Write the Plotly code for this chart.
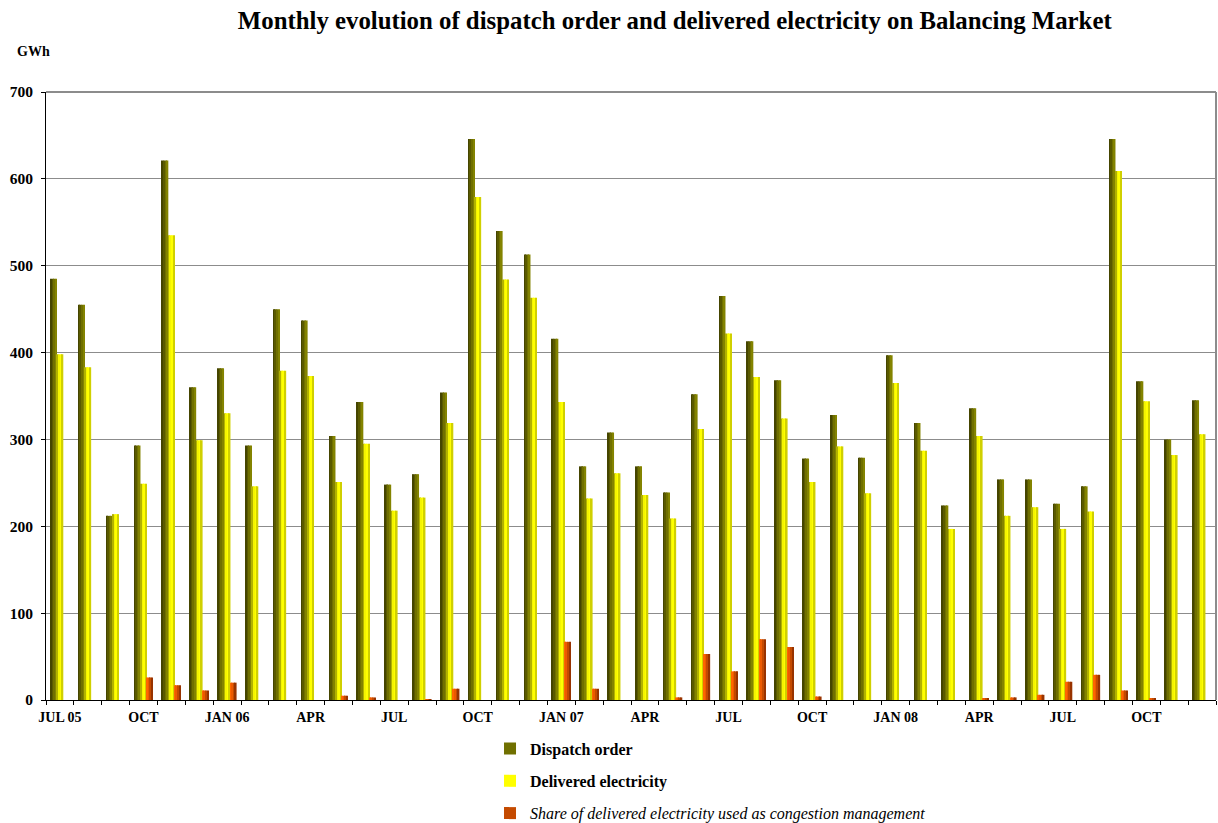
import plotly.graph_objects as go

# Months Jul 2005 - Dec 2008
months = [
    "Jul 05", "Aug 05", "Sep 05", "Oct 05", "Nov 05", "Dec 05",
    "Jan 06", "Feb 06", "Mar 06", "Apr 06", "May 06", "Jun 06",
    "Jul 06", "Aug 06", "Sep 06", "Oct 06", "Nov 06", "Dec 06",
    "Jan 07", "Feb 07", "Mar 07", "Apr 07", "May 07", "Jun 07",
    "Jul 07", "Aug 07", "Sep 07", "Oct 07", "Nov 07", "Dec 07",
    "Jan 08", "Feb 08", "Mar 08", "Apr 08", "May 08", "Jun 08",
    "Jul 08", "Aug 08", "Sep 08", "Oct 08", "Nov 08", "Dec 08",
]

# Axis labels shown every third month
month_labels = [
    "JUL 05", "", "", "OCT", "", "",
    "JAN 06", "", "", "APR", "", "",
    "JUL", "", "", "OCT", "", "",
    "JAN 07", "", "", "APR", "", "",
    "JUL", "", "", "OCT", "", "",
    "JAN 08", "", "", "APR", "", "",
    "JUL", "", "", "OCT", "", "",
]

# GWh
dispatch_order = [
    485, 455, 212, 293, 621, 360,
    382, 293, 450, 437, 304, 343,
    248, 260, 354, 646, 540, 513,
    416, 269, 308, 269, 239, 352,
    465, 413, 368, 278, 328, 279,
    397, 319, 224, 336, 254, 254,
    226, 246, 646, 367, 300, 345,
]

delivered = [
    398, 383, 214, 249, 535, 299,
    330, 246, 379, 373, 251, 295,
    218, 233, 319, 579, 484, 463,
    343, 232, 261, 236, 209, 312,
    422, 372, 324, 251, 292, 238,
    365, 287, 197, 304, 212, 222,
    197, 217, 609, 344, 282, 306,
]

congestion = [
    0, 0, 0, 26, 17, 11,
    20, 0, 0, 0, 5, 3,
    0, 1, 13, 0, 0, 0,
    67, 13, 0, 0, 3, 53,
    33, 70, 61, 4, 0, 0,
    0, 0, 0, 1.5, 3, 6,
    21, 29, 11, 1.5, 0, 0,
]

y_ticks = [0, 100, 200, 300, 400, 500, 600, 700]

SERIF = "Liberation Serif"

# Each series: name, values, left offset in category units, bar width, shading stripes (left to right)
series = [
    ("<b>Dispatch order</b>", dispatch_order, -0.34, 0.23,
     ["#454500", "#5a5a00", "#707000", "#838300"]),
    ("<b>Delivered electricity</b>", delivered, -0.11, 0.23,
     ["#b2b200", "#f4f400", "#ffff00", "#d0d000"]),
    ("<i>Share of delivered electricity used as congestion management</i>", congestion, 0.105, 0.235,
     ["#ff6600", "#ec5a00", "#c44a00", "#983300"]),
]

fig = go.Figure()
n_stripes = 4
for gi, (name, vals, left, width, shades) in enumerate(series):
    sw = width / n_stripes
    for k, col in enumerate(shades):
        fig.add_trace(go.Bar(
            x=months,
            y=vals,
            name=name,
            legendgroup=f"g{gi}",
            showlegend=(k == 2),
            offset=left + k * sw,
            width=sw * 1.02,
            marker=dict(color=col, line=dict(width=0)),
            hoverinfo="x+y",
        ))

fig.update_layout(
    width=1218,
    height=823,
    barmode="overlay",
    plot_bgcolor="white",
    paper_bgcolor="white",
    margin=dict(l=46, r=2, t=92, b=123, autoexpand=False),
    font=dict(family=SERIF, color="black"),
    title=dict(
        text="<b>Monthly evolution of dispatch order and delivered electricity on Balancing Market</b>",
        font=dict(family=SERIF, size=24.8, color="black"),
        x=0.554, xanchor="center", xref="container",
        y=0.975, yanchor="middle", yref="container",
    ),
    xaxis=dict(
        type="category",
        tickmode="array",
        tickvals=months,
        ticktext=month_labels,
        tickson="boundaries",
        ticks="outside",
        ticklen=4,
        tickcolor="black",
        tickangle=0,
        ticklabelstandoff=4,
        automargin=False,
        showline=True,
        linecolor="black",
        linewidth=1,
        showgrid=False,
        tickfont=dict(family=SERIF, size=14, color="black", weight="bold"),
        range=[-0.5, len(months) - 0.5],
    ),
    yaxis=dict(
        range=[0, 700],
        tickvals=y_ticks,
        ticks="outside",
        ticklen=4,
        tickcolor="black",
        ticklabelstandoff=5,
        automargin=False,
        showline=True,
        linecolor="black",
        linewidth=1,
        showgrid=True,
        gridcolor="#8c8c8c",
        gridwidth=1,
        zeroline=False,
        tickfont=dict(family=SERIF, size=15.5, color="black", weight="bold"),
    ),
    legend=dict(
        x=0.3795, xanchor="left",
        y=-0.052, yanchor="top",
        font=dict(family=SERIF, size=16, color="black"),
        tracegroupgap=8.5,
        bgcolor="rgba(0,0,0,0)",
    ),
    annotations=[
        dict(
            text="<b>GWh</b>",
            xref="paper", yref="paper",
            x=-0.0265, y=1.0674,
            xanchor="left", yanchor="middle",
            showarrow=False,
            font=dict(family=SERIF, size=14, color="black"),
        )
    ],
    shapes=[
        dict(type="line", xref="paper", yref="paper", x0=0, x1=1, y0=1, y1=1,
             line=dict(color="#8c8c8c", width=2)),
        dict(type="line", xref="paper", yref="paper", x0=1, x1=1, y0=0, y1=1,
             line=dict(color="#8c8c8c", width=2)),
    ],
)

fig.write_html("out.html")
